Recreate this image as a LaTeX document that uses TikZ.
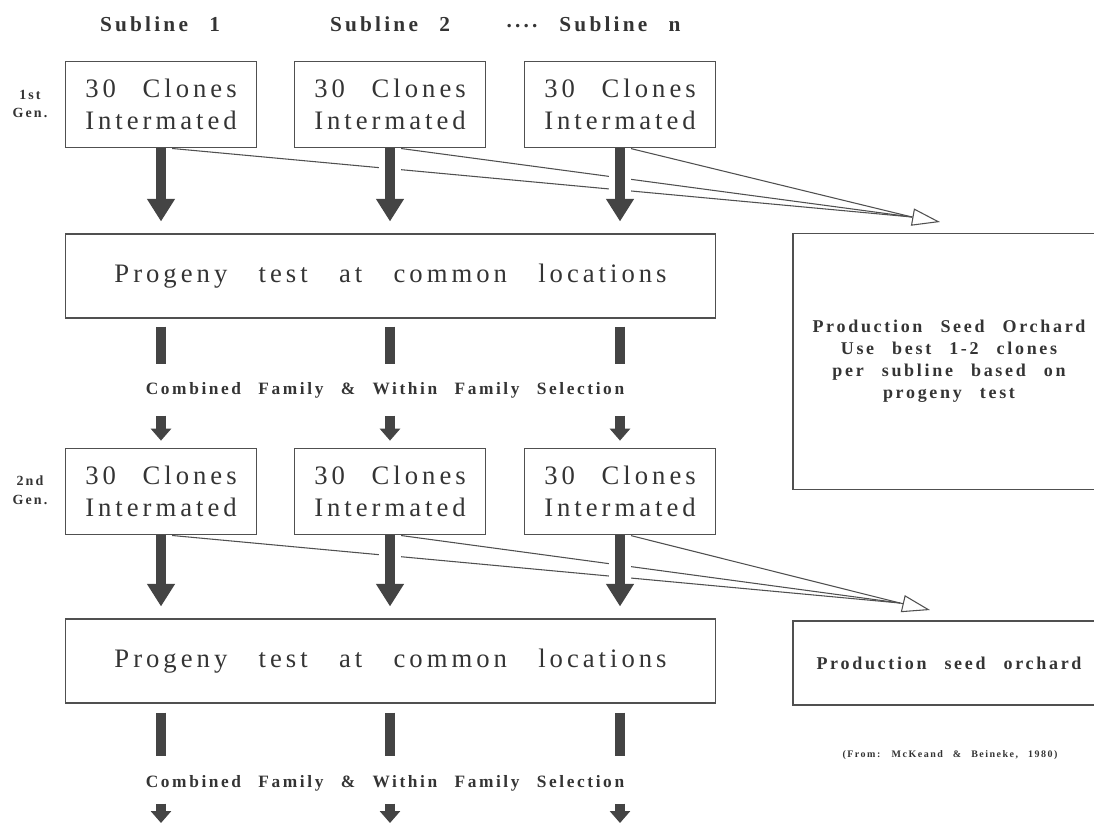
\documentclass[tikz,border=0pt]{standalone}
\usepackage{fontspec}
\setmainfont{Liberation Serif}
\newfontfamily\boxfont[LetterSpace=15,WordSpace=2.5]{Liberation Serif}
\usetikzlibrary{arrows.meta}

\definecolor{inkgray}{HTML}{343434}
\definecolor{linegray}{HTML}{505050}
\definecolor{fatgray}{HTML}{444444}

\tikzset{
  clonebox/.style={draw=linegray, line width=0.8pt, minimum width=143pt, minimum height=65pt,
    align=center, text=inkgray, font=\boxfont\fontsize{20}{24}\selectfont},
  progbox/.style={draw=linegray, line width=0.8pt, minimum width=488pt, minimum height=63pt,
    text=inkgray, font=\boxfont\fontsize{20}{24}\selectfont},
  orchbox/.style={draw=linegray, line width=0.8pt, minimum width=234pt, align=center,
    text=inkgray, font=\boxfont\bfseries\fontsize{13.5}{16.5}\selectfont},
  headtxt/.style={text=inkgray, font=\boxfont\bfseries\fontsize{16}{19}\selectfont},
  gentxt/.style={text=inkgray, align=center, font=\boxfont\bfseries\fontsize{10.5}{14}\selectfont},
  seltxt/.style={text=inkgray, font=\boxfont\bfseries\fontsize{13}{16}\selectfont},
  citetxt/.style={text=inkgray, font=\boxfont\bfseries\fontsize{7.5}{9}\selectfont},
  fat/.style={draw=fatgray, line width=7.5pt, -{Triangle[length=17pt,width=20pt]},
    preaction={draw=white, line width=16pt, arrows=-}},
  bar/.style={draw=fatgray, line width=8pt},
  small/.style={draw=fatgray, line width=7.5pt, -{Triangle[length=9pt,width=15pt]}},
  thinline/.style={draw=linegray, line width=0.8pt},
  opentip/.style={draw=linegray, line width=0.8pt, -{Triangle[length=21pt,width=13pt,fill=white]}}
}

\begin{document}
\begin{tikzpicture}[x=0.75pt,y=-0.75pt]
  \useasboundingbox (0,0) rectangle (1094,826);

  % column heads
  \node[headtxt] (h1) at (160,24) {Subline 1};
  \node[headtxt] (h2) at (390,24) {Subline 2};
  \node[headtxt] (hd) at (522,26) {....};
  \node[headtxt] (hn) at (620,24) {Subline n};

  \node[gentxt] (g1) at (30,104) {1st\\Gen.};
  \node[gentxt] (g2) at (30,490) {2nd\\Gen.};

  \foreach \i/\x in {1/161,2/390,3/620} {
    \node[clonebox] (a\i) at (\x,104.5) {30 Clones\\Intermated};
    \node[clonebox] (b\i) at (\x,491.5) {30 Clones\\Intermated};
  }

  \node[progbox] (p1) at (390.5,276)
    {Progeny\hspace{3.5pt} test\hspace{3.5pt} at\hspace{3.5pt} common\hspace{3.5pt} locations};
  \node[progbox] (p2) at (390.5,661)
    {Progeny\hspace{3.5pt} test\hspace{3.5pt} at\hspace{3.5pt} common\hspace{3.5pt} locations};
  \node[seltxt] (s1) at (385,390) {Combined Family \& Within Family Selection};
  \node[seltxt] (s2) at (385,783) {Combined Family \& Within Family Selection};

  \node[orchbox, minimum height=192pt] (o1) at (949,361.5)
    {Production Seed Orchard\\Use best 1-2 clones\\per subline based on\\progeny test};
  \node[orchbox, minimum height=63pt] (o2) at (949,663) {Production seed orchard};
  \node[citetxt] (ref) at (950,755) {(From: McKeand \& Beineke, 1980)};

  % thin lines to the seed orchards
  \coordinate (e1) at (912,217); \coordinate (t1) at (940,222);
  \coordinate (e2) at (900,603); \coordinate (t2) at (930,610);
  \foreach \i in {1,2,3} {
    \draw[thinline] ([xshift=7.5pt]a\i.south) -- (e1);
    \draw[thinline] ([xshift=7.5pt]b\i.south) -- (e2);
  }
  \draw[opentip] (e1) -- (t1);
  \draw[opentip] (e2) -- (t2);

  % fat arrows, bars and small arrows
  \foreach \i in {1,2,3} {
    \coordinate (z\i) at (a\i.south |- 0,823);
    \draw[fat, shorten >=9pt] (a\i.south) -- (a\i.south |- p1.north);
    \draw[fat, shorten >=9pt] (b\i.south) -- (b\i.south |- p2.north);
    \draw[bar, shorten <=6pt, shorten >=63pt] (a\i.south |- p1.south) -- (b\i.north);
    \draw[small, shorten <=72.75pt, shorten >=5.25pt] (a\i.south |- p1.south) -- (b\i.north);
    \draw[bar, shorten <=6.75pt, shorten >=50.25pt] (b\i.south |- p2.south) -- (z\i);
    \draw[small, shorten <=75pt] (b\i.south |- p2.south) -- (z\i);
  }
\end{tikzpicture}
\end{document}
